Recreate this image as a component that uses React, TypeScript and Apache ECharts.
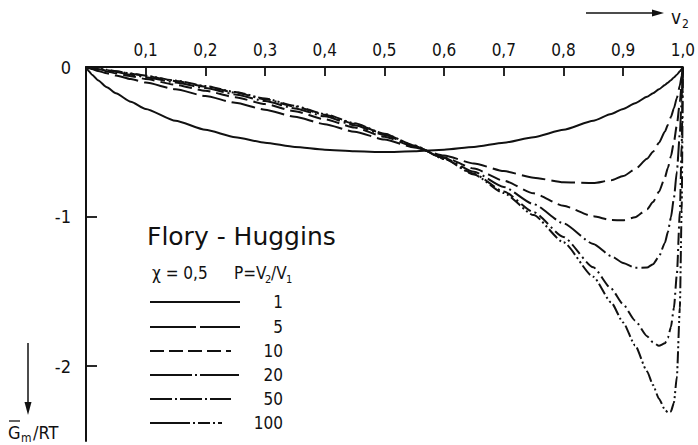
import React, { useEffect, useRef } from "react";
import * as echarts from "echarts";

// Volume fraction of polymer v2 (x values shared by all curves)
const volumeFraction = [
  0, 0.002, 0.005, 0.01, 0.02, 0.035, 0.05, 0.075, 0.1, 0.15, 0.2, 0.25, 0.3, 0.35,
  0.4, 0.45, 0.5, 0.55, 0.6, 0.65, 0.7, 0.75, 0.8, 0.85, 0.88, 0.9, 0.92, 0.94,
  0.95, 0.96, 0.97, 0.975, 0.98, 0.985, 0.99, 0.995, 0.998, 1,
];

// Molar Gibbs energy of mixing Gm/RT for chi = 0.5 and P = V2/V1
const gP1 = [
  0, -0.013, -0.029, -0.051, -0.088, -0.135, -0.175, -0.232, -0.28, -0.359, -0.42,
  -0.469, -0.506, -0.534, -0.553, -0.564, -0.568, -0.564, -0.553, -0.534, -0.506,
  -0.469, -0.42, -0.359, -0.314, -0.28, -0.242, -0.199, -0.175, -0.149, -0.12,
  -0.105, -0.088, -0.07, -0.051, -0.029, -0.013, 0,
];
const gP5 = [
  0, -0.003, -0.008, -0.014, -0.026, -0.042, -0.057, -0.081, -0.104, -0.149, -0.194,
  -0.239, -0.285, -0.333, -0.382, -0.433, -0.485, -0.538, -0.592, -0.645, -0.696,
  -0.74, -0.771, -0.776, -0.757, -0.729, -0.684, -0.614, -0.566, -0.506, -0.431,
  -0.386, -0.335, -0.276, -0.207, -0.123, -0.059, 0,
];
const gP10 = [
  0, -0.002, -0.005, -0.01, -0.018, -0.03, -0.042, -0.061, -0.08, -0.119, -0.159,
  -0.202, -0.248, -0.296, -0.349, -0.405, -0.466, -0.532, -0.603, -0.679, -0.76,
  -0.844, -0.928, -0.998, -1.023, -1.025, -1.005, -0.951, -0.903, -0.834, -0.737,
  -0.673, -0.597, -0.503, -0.386, -0.234, -0.114, 0,
];
const gP20 = [
  0, -0.002, -0.004, -0.007, -0.014, -0.024, -0.034, -0.051, -0.068, -0.103, -0.141,
  -0.183, -0.228, -0.277, -0.33, -0.39, -0.455, -0.528, -0.609, -0.7, -0.802,
  -0.917, -1.045, -1.183, -1.264, -1.31, -1.342, -1.341, -1.318, -1.267, -1.174,
  -1.102, -1.006, -0.877, -0.699, -0.443, -0.222, 0,
];
const gP50 = [
  0, -0.001, -0.003, -0.006, -0.012, -0.021, -0.029, -0.045, -0.06, -0.094, -0.131,
  -0.171, -0.215, -0.264, -0.319, -0.38, -0.448, -0.525, -0.613, -0.714, -0.832,
  -0.97, -1.136, -1.339, -1.482, -1.586, -1.695, -1.799, -1.841, -1.864, -1.847,
  -1.81, -1.738, -1.611, -1.386, -0.968, -0.522, 0,
];
const gP100 = [
  0, -0.001, -0.003, -0.006, -0.011, -0.019, -0.028, -0.043, -0.058, -0.091, -0.127,
  -0.167, -0.211, -0.26, -0.315, -0.376, -0.446, -0.524, -0.615, -0.719, -0.843,
  -0.99, -1.172, -1.402, -1.574, -1.708, -1.861, -2.034, -2.126, -2.217, -2.291,
  -2.31, -2.303, -2.244, -2.07, -1.609, -0.956, 0,
];

const chainRatios = ["1", "5", "10", "20", "50", "100"];
const curves = [gP1, gP5, gP10, gP20, gP50, gP100];
const yLabelValues = [0, -1, -2];
const yTickValues = [-1, -2];

const INK = "#111";
const FONT = "'DejaVu Sans Condensed', 'DejaVu Sans', sans-serif";
const WIDE_FONT = "'DejaVu Sans', sans-serif";

// dash patterns of the curves, and of the legend samples
const curveDash: (number[] | "solid")[] = [
  "solid",
  [24, 6],
  [13, 6],
  [20, 4, 2, 4],
  [12, 4, 2, 4],
  [12, 3, 2, 3, 2, 3],
];
const sampleDash: (number[] | null)[] = [
  null,
  [46, 4],
  [14, 5],
  [42, 3, 2, 3],
  [22, 3, 2, 3],
  [40, 3, 2, 3, 12, 3, 2, 3],
];
const sampleEnd = [240, 240, 231, 239, 231, 222];
const rowY = [302, 327, 351, 375, 399, 423];

export default function App() {
  const ref = useRef<HTMLDivElement>(null);

  useEffect(() => {
    document.body.style.margin = "0";
    const chart = echarts.init(ref.current!, null, { renderer: "svg" });

    const series = curves.map((vals, i) => ({
      name: "P = " + chainRatios[i],
      type: "line",
      data: volumeFraction.map((x, k) => [x, vals[k]]),
      showSymbol: false,
      symbol: "none",
      smooth: 0.2,
      smoothMonotone: "x",
      lineStyle: { color: INK, width: 2, type: curveDash[i] },
      z: 3,
    }));

    const legendItems: any[] = [];
    chainRatios.forEach((label, i) => {
      const dash = sampleDash[i];
      legendItems.push({
        type: "line",
        shape: { x1: 150, y1: rowY[i], x2: sampleEnd[i], y2: rowY[i] },
        style: { stroke: INK, lineWidth: 2, lineDash: dash || undefined },
      });
      legendItems.push({
        type: "text",
        x: 283,
        y: rowY[i],
        style: {
          text: label,
          fill: INK,
          font: `17px ${FONT}`,
          align: "right",
          verticalAlign: "middle",
        },
      });
    });

    const option = {
      animation: false,
      grid: { left: 86, right: 8, top: 67, bottom: 4 },
      xAxis: {
        type: "value",
        position: "top",
        min: 0,
        max: 1,
        interval: 0.1,
        axisLine: { onZero: false, lineStyle: { color: INK, width: 2 } },
        axisTick: { inside: true, length: 9, lineStyle: { color: INK, width: 1.8 } },
        axisLabel: {
          color: INK,
          fontSize: 17,
          fontFamily: FONT,
          margin: 9,
          showMaxLabel: true,
          formatter: (v: number) => (v === 0 ? "" : v.toFixed(1).replace(".", ",")),
        },
        splitLine: { show: false },
      },
      yAxis: {
        type: "value",
        min: -2.5,
        max: 0,
        interval: 0.5,
        axisLine: { onZero: false, lineStyle: { color: INK, width: 2 } },
        axisTick: {
          inside: true,
          length: 11,
          customValues: yTickValues,
          lineStyle: { color: INK, width: 1.8 },
        },
        axisLabel: {
          color: INK,
          fontSize: 18,
          fontFamily: FONT,
          margin: 15,
          customValues: yLabelValues,
          formatter: (v: number) => (v === 0 ? "0" : "-" + Math.abs(v)),
        },
        splitLine: { show: false },
      },
      series,
      graphic: [
        // abscissa label with arrow
        {
          type: "line",
          shape: { x1: 586, y1: 13, x2: 655, y2: 13 },
          style: { stroke: INK, lineWidth: 1.5 },
        },
        {
          type: "polygon",
          shape: { points: [[652, 9.5], [664, 13], [652, 16.5]] },
          style: { fill: INK },
        },
        {
          type: "text",
          x: 671,
          y: 17,
          style: { text: "v", fill: INK, font: `19px ${FONT}`, verticalAlign: "middle" },
        },
        {
          type: "text",
          x: 682,
          y: 24,
          style: { text: "2", fill: INK, font: `12px ${FONT}`, verticalAlign: "middle" },
        },
        // ordinate label with arrow
        {
          type: "line",
          shape: { x1: 28, y1: 343, x2: 28, y2: 405 },
          style: { stroke: INK, lineWidth: 1.5 },
        },
        {
          type: "polygon",
          shape: { points: [[24.5, 402], [28, 415], [31.5, 402]] },
          style: { fill: INK },
        },
        {
          type: "line",
          shape: { x1: 9, y1: 421, x2: 20, y2: 421 },
          style: { stroke: INK, lineWidth: 1.3 },
        },
        {
          type: "text",
          x: 8,
          y: 432,
          style: { text: "G", fill: INK, font: `18px ${FONT}`, verticalAlign: "middle" },
        },
        {
          type: "text",
          x: 21,
          y: 438,
          style: { text: "m", fill: INK, font: `12px ${FONT}`, verticalAlign: "middle" },
        },
        {
          type: "text",
          x: 33,
          y: 432,
          style: { text: "/RT", fill: INK, font: `18px ${FONT}`, verticalAlign: "middle" },
        },
        // legend block
        {
          type: "text",
          x: 147,
          y: 236,
          style: {
            text: "Flory - Huggins",
            fill: INK,
            font: `25px ${WIDE_FONT}`,
            verticalAlign: "middle",
          },
        },
        {
          type: "text",
          x: 152,
          y: 273,
          style: { text: "χ = 0,5", fill: INK, font: `17px ${FONT}`, verticalAlign: "middle" },
        },
        {
          type: "text",
          x: 234,
          y: 273,
          style: { text: "P=V", fill: INK, font: `17px ${FONT}`, verticalAlign: "middle" },
        },
        {
          type: "text",
          x: 265,
          y: 279,
          style: { text: "2", fill: INK, font: `11px ${FONT}`, verticalAlign: "middle" },
        },
        {
          type: "text",
          x: 271,
          y: 273,
          style: { text: "/V", fill: INK, font: `17px ${FONT}`, verticalAlign: "middle" },
        },
        {
          type: "text",
          x: 286,
          y: 279,
          style: { text: "1", fill: INK, font: `11px ${FONT}`, verticalAlign: "middle" },
        },
        ...legendItems,
      ],
    };

    chart.setOption(option as any);
    return () => chart.dispose();
  }, []);

  return <div ref={ref} style={{ width: 698, height: 445 }} />;
}
